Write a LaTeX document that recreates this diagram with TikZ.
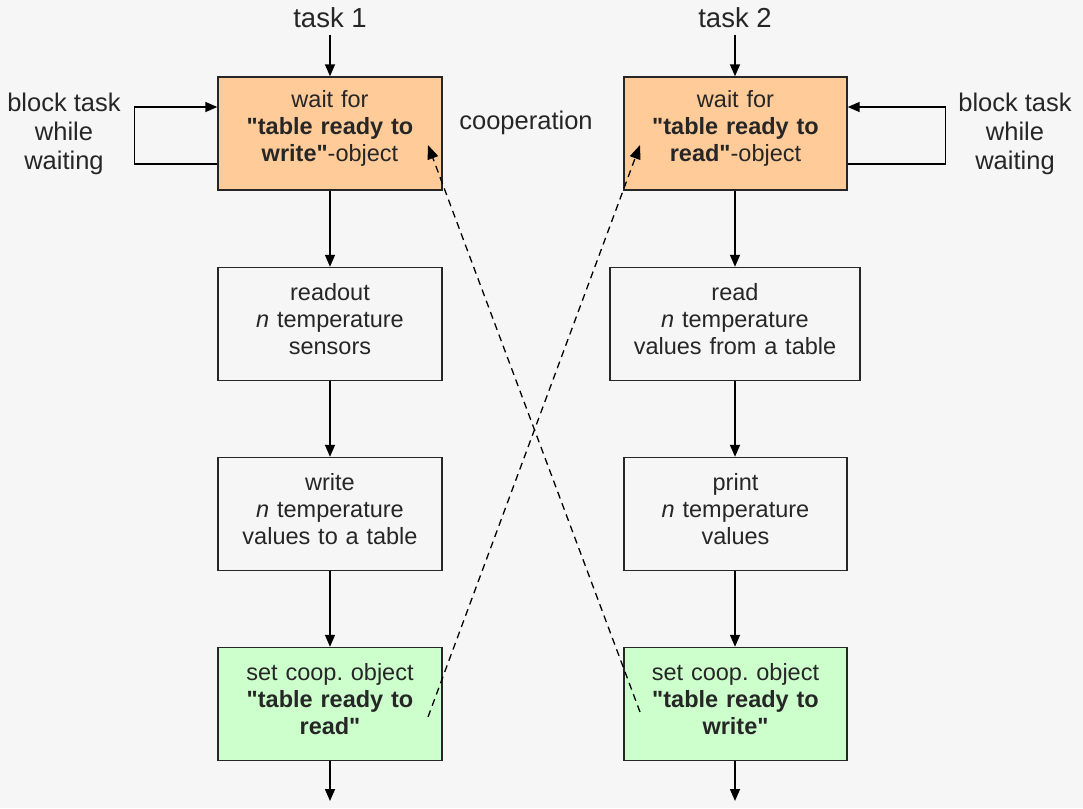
\documentclass[tikz,border=0pt]{standalone}
\usepackage{fontspec}
\setmainfont{Liberation Sans}
\usetikzlibrary{arrows.meta,calc}
\definecolor{bgc}{HTML}{F6F6F6}
\definecolor{orangec}{HTML}{FFCC99}
\definecolor{greenc}{HTML}{CCFFCC}
\definecolor{txt}{HTML}{262626}
\newcommand{\qq}{\textquotedbl}
\newcommand{\boxend}{\par\vspace*{10pt}}
\frenchspacing
\begin{document}
\begin{tikzpicture}[x=1pt,y=-1pt,
  box/.style={draw=black!85,line width=1.4pt,minimum height=113pt,text width=#1,minimum width=#1,align=center,inner sep=0pt,text=txt,font=\fontsize{23.5}{27}\selectfont,execute at end node=\boxend},
  box/.default=223pt,
  flow/.style={line width=1.5pt,-{Triangle[length=12pt,width=10pt]}},
  coop/.style={line width=1.3pt,dash pattern=on 7pt off 5pt,-{Triangle[length=14pt,width=11pt]}},
  lbl/.style={text=txt,align=center,font=\fontsize{25.5}{29}\selectfont}]
\useasboundingbox (0,0) rectangle (1083,808);
\fill[bgc] (0,0) rectangle (1083,808);

% left column
\node[lbl,font=\fontsize{27.5}{29}\selectfont] (t1) at (330,18) {task 1};
\node[box=224pt,fill=orangec] (L1) at (330,133.5) {wait for\\\textbf{\qq table ready to}\\\textbf{write\qq}-object};
\node[box=224pt] (L2) at (330,324) {readout\\\textit{n} temperature\\sensors};
\node[box=224pt] (L3) at (330,514) {write\\\textit{n} temperature\\values to a table};
\node[box=224pt,fill=greenc] (L4) at (330,704) {set coop. object\\\textbf{\qq table ready to}\\\textbf{read\qq}};
\coordinate (Lend) at (330,801);

% right column
\node[lbl,font=\fontsize{27.5}{29}\selectfont] (t2) at (735,18) {task 2};
\node[box=223pt,fill=orangec] (R1) at (735.5,133.5) {wait for\\\textbf{\qq table ready to}\\\textbf{read\qq}-object};
\node[box=250pt] (R2) at (735,324) {read\\\textit{n} temperature\\values from a table};
\node[box=223pt] (R3) at (735.5,514) {print\\\textit{n} temperature\\values};
\node[box=223pt,fill=greenc] (R4) at (735.5,704) {set coop. object\\\textbf{\qq table ready to}\\\textbf{write\qq}};
\coordinate (Rend) at (735,801);

% side labels
\node[lbl] (bl) at (64,134) {block task\\while\\waiting};
\node[lbl] (br) at (1015,134) {block task\\while\\waiting};
\node[lbl] (co) at (526,123) {cooperation};

% flow arrows
\draw[flow] (t1.south) ++(0,3) -- (L1.north);
\draw[flow] (L1) -- (L2);
\draw[flow] (L2) -- (L3);
\draw[flow] (L3) -- (L4);
\draw[flow] (L4) -- (Lend);
\draw[flow] (t2.south) ++(0,3) -- (t2.south |- R1.north);
\draw[flow] (R1.south -| R2) -- (R2);
\draw[flow] (R2) -- (R2 |- R3.north);
\draw[flow] (R2 |- R3.south) -- (R2 |- R4.north);
\draw[flow] (R2 |- R4.south) -- (Rend);

% block loops
\draw[flow] ($(L1.west)+(0,30.5)$) -- ++(-83,0) |- ($(L1.west)+(0,-26.5)$);
\draw[flow] ($(R1.east)+(0,30.5)$) -- ++(98,0) |- ($(R1.east)+(0,-26.5)$);

% cooperation dashed arrows
\coordinate (cLs) at (428,717);
\coordinate (cRe) at (640,145);
\coordinate (cRs) at (640,712);
\coordinate (cLe) at (428,145);
\draw[coop] (cLs) -- (cRe);
\draw[coop] (cRs) -- (cLe);
\end{tikzpicture}
\end{document}
